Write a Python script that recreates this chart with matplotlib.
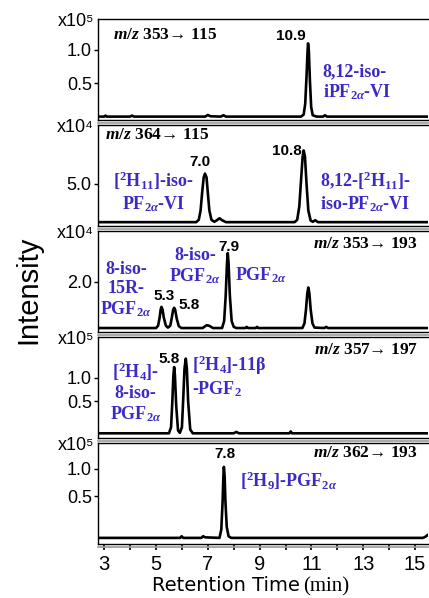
import matplotlib
matplotlib.use("Agg")
import numpy as np
from matplotlib import pyplot as plt

plt.rcParams['mathtext.fontset'] = 'custom'
plt.rcParams['mathtext.rm'] = 'Liberation Serif:bold'
plt.rcParams['mathtext.it'] = 'Liberation Serif:bold:italic'
plt.rcParams['mathtext.bf'] = 'Liberation Serif:bold'

BLUE = '#3a2bc4'

# traces (retention time, intensity)
t1 = [2.78, 3.0, 3.05, 3.1, 4.0, 4.07, 4.15, 6.9, 7.0, 7.1, 7.5, 7.6, 7.7, 10.6, 10.7, 10.76, 10.81, 10.85,
      10.87, 10.9, 10.94, 10.99, 11.05, 11.2, 11.45, 11.52, 11.6, 15.5]
y1 = [0.01, 0.01, 0.025, 0.01, 0.01, 0.025, 0.01, 0.01, 0.035, 0.015, 0.01, 0.03, 0.01, 0.01, 0.04, 0.2, 0.6, 0.98,
      1.09, 0.98, 0.55, 0.15, 0.03, 0.01, 0.01, 0.03, 0.01, 0.01]

t2 = [2.78, 6.55, 6.65, 6.72, 6.78, 6.84, 6.89, 6.95, 7.0, 7.06, 7.14, 7.25, 7.35, 7.45, 7.55, 7.7, 10.35, 10.45,
      10.53, 10.6, 10.66, 10.7, 10.75, 10.81, 10.88, 10.97, 11.05, 11.15, 11.25, 15.5]
y2 = [0, 0, 0.3, 1.5, 3.8, 5.8, 6.3, 5.8, 3.8, 1.5, 0.3, 0.05, 0.25, 0.5, 0.25, 0, 0, 0.3,
      2.0, 5.5, 8.5, 9.3, 8.5, 5.0, 1.5, 0.2, 0.05, 0.25, 0, 0]

t3 = [2.78, 5.0, 5.08, 5.14, 5.18, 5.21, 5.25, 5.3, 5.38, 5.46, 5.55, 5.61, 5.66, 5.7, 5.74, 5.8, 5.88, 5.98,
      6.8, 6.95, 7.05, 7.2, 7.55, 7.63, 7.69, 7.74, 7.77, 7.8, 7.85, 7.92, 8.0, 8.1, 8.45, 8.5, 8.55, 8.85, 8.9,
      8.95, 10.65, 10.73, 10.79, 10.84, 10.88, 10.92, 10.97, 11.04, 11.12, 11.5, 11.57, 11.64, 15.5]
y3 = [0, 0, 0.1, 0.45, 0.8, 0.91, 0.8, 0.45, 0.1, 0.02, 0.1, 0.45, 0.78, 0.87, 0.78, 0.4, 0.08, 0,
      0, 0.12, 0.1, 0, 0, 0.3, 1.4, 2.8, 3.22, 2.8, 1.4, 0.3, 0.05, 0, 0, 0.05, 0, 0, 0.05,
      0, 0, 0.2, 0.8, 1.5, 1.74, 1.5, 0.8, 0.2, 0.02, 0, 0.05, 0, 0]

t4 = [2.78, 5.5, 5.58, 5.63, 5.67, 5.7, 5.73, 5.78, 5.85, 5.92, 6.0, 6.05, 6.1, 6.15, 6.19, 6.24, 6.32, 6.42,
      8.0, 8.1, 8.2, 10.15, 10.2, 10.25, 15.5]
y4 = [-0.18, -0.18, -0.05, 0.5, 1.05, 1.23, 1.05, 0.4, -0.12, -0.17, -0.05, 0.55, 1.2, 1.41, 1.2, 0.5, -0.1, -0.18,
      -0.18, -0.15, -0.18, -0.18, -0.14, -0.18, -0.18]

t5 = [2.78, 5.93, 5.99, 6.05, 6.75, 6.82, 6.9, 7.45, 7.52, 7.57, 7.6, 7.62, 7.65, 7.68, 7.73, 7.8, 7.9,
      15.3, 15.4, 15.48]
y5 = [-0.25, -0.25, -0.22, -0.25, -0.25, -0.22, -0.24, -0.25, -0.1, 0.4, 0.85, 1.03, 0.85, 0.4, -0.05, -0.22, -0.25,
      -0.25, -0.23, -0.2]

times = [t1, t2, t3, t4, t5]
signals = [y1, y2, y3, y4, y5]
ylims = [(-0.04, 1.45), (-0.5, 12.6), (-0.17, 4.17), (-0.28, 1.87), (-0.36, 1.46)]
yticks = [[0.5, 1.0], [5.0], [2.0], [0.5, 1.0], [0.5, 1.0]]
scales = ['x10\u2075', 'x10\u2074', 'x10\u2074', 'x10\u2075', 'x10\u2075']

transitions = ['$m/z$ 353\u2192 115', '$m/z$ 364\u2192 115', '$m/z$ 353\u2192 193',
               '$m/z$ 357\u2192 197', '$m/z$ 362\u2192 193']

# (x, y in axes fraction, text, ha)
peak_labels = [
    [(10.78, 0.79, '10.9', 'right')],
    [(6.69, 0.59, '7.0', 'center'), (10.05, 0.70, '10.8', 'center')],
    [(5.3, 0.32, '5.3', 'center'), (6.26, 0.23, '5.8', 'center'), (7.8, 0.80, '7.9', 'center')],
    [(5.5, 0.74, '5.8', 'center')],
    [(7.66, 0.85, '7.8', 'center')],
]
names = [
    [(11.44, 0.37, '8,12-iso-\niPF$_{2\\alpha}$-VI', 'left')],
    [(4.89, 0.34, '[$^{2}$H$_{11}$]-iso-\nPF$_{2\\alpha}$-VI', 'center'),
     (13.07, 0.34, '8,12-[$^{2}$H$_{11}$]-\niso-PF$_{2\\alpha}$-VI', 'center')],
    [(3.85, 0.42, '8-iso-\n15R-\nPGF$_{2\\alpha}$', 'center'),
     (6.5, 0.65, '8-iso-\nPGF$_{2\\alpha}$', 'center'),
     (8.05, 0.56, 'PGF$_{2\\alpha}$', 'left')],
    [(4.2, 0.455, '[$^{2}$H$_{4}$]-\n8-iso-\nPGF$_{2\\alpha}$', 'center'),
     (6.39, 0.61, '[$^{2}$H$_{4}$]-11\u03b2\n-PGF$_{2}$', 'left')],
    [(8.24, 0.63, '[$^{2}$H$_{9}$]-PGF$_{2\\alpha}$', 'left')],
]

W, H = 429, 598
fig = plt.figure(figsize=(W / 100, H / 100), dpi=100)

left = 98 / W
width = 330 / W
axes = []
for i in range(5):
    top = 19 + i * 106
    ax = fig.add_axes([left, 1 - (top + 101) / H, width, 101 / H])
    axes.append(ax)

    ax.plot(times[i], signals[i], color='black', lw=1.9, solid_joinstyle='round')
    ax.set_xlim(2.76, 15.5)
    ax.set_ylim(*ylims[i])
    ax.set_yticks(yticks[i])
    ax.set_yticklabels(['%.1f' % v for v in yticks[i]], fontsize=13, family='Liberation Sans')
    ax.tick_params(axis='y', direction='out', length=3, width=1, pad=1.5)
    ax.spines['right'].set_visible(False)
    for side in ['left', 'top', 'bottom']:
        ax.spines[side].set_linewidth(1.0)
    # grey separator under each panel
    ax.plot([0, 1], [-0.025, -0.025], transform=ax.transAxes, clip_on=False, color='#999999', lw=1.2)

    ax.text(-0.012, 0.93, scales[i], transform=ax.transAxes, ha='right', va='baseline',
            fontsize=13, family='Liberation Sans')

    if i in (0, 1):
        ax.text(3.03 if i == 1 else 3.34, 0.84 if i == 0 else 0.9, transitions[i],
                transform=ax.get_xaxis_transform(), ha='left', va='center', fontsize=12.5,
                family='Liberation Serif', weight='bold')
    else:
        ax.text(15.11, 0.87 if i < 4 else 0.9, transitions[i], transform=ax.get_xaxis_transform(),
                ha='right', va='center', fontsize=12.5, family='Liberation Serif', weight='bold')

    for x, y, s, ha in peak_labels[i]:
        ax.text(x, y, s, transform=ax.get_xaxis_transform(), ha=ha, va='baseline',
                fontsize=11, family='Liberation Sans', weight='bold')
    for x, y, s, ha in names[i]:
        ax.text(x, y, s, transform=ax.get_xaxis_transform(), ha=ha, va='center', multialignment=ha,
                fontsize=13, family='Liberation Serif', weight='bold', color=BLUE, linespacing=1.15)

    if i < 4:
        ax.set_xticks([])
    else:
        ax.set_xticks([3, 5, 7, 9, 11, 13, 15])
        ax.set_xticks([4, 6, 8, 10, 12, 14], minor=True)
        ax.set_xticklabels(['3', '5', '7', '9', '11', '13', '15'], fontsize=14.5, family='Liberation Sans')
        ax.tick_params(axis='x', which='both', direction='out', length=4, width=1.2, pad=4)

fig.text(28 / W, 1 - 290 / H, 'Intensity', rotation=90, ha='center', va='center',
         fontsize=21, family='Liberation Sans')
fig.text(152 / W, 1 - 591 / H, 'Retention Time', ha='left', va='baseline', fontsize=14, family='DejaVu Sans')
fig.text(303 / W, 1 - 591 / H, '(min)', ha='left', va='baseline', fontsize=15, family='Liberation Serif')

fig.savefig('out.png', dpi=100)
